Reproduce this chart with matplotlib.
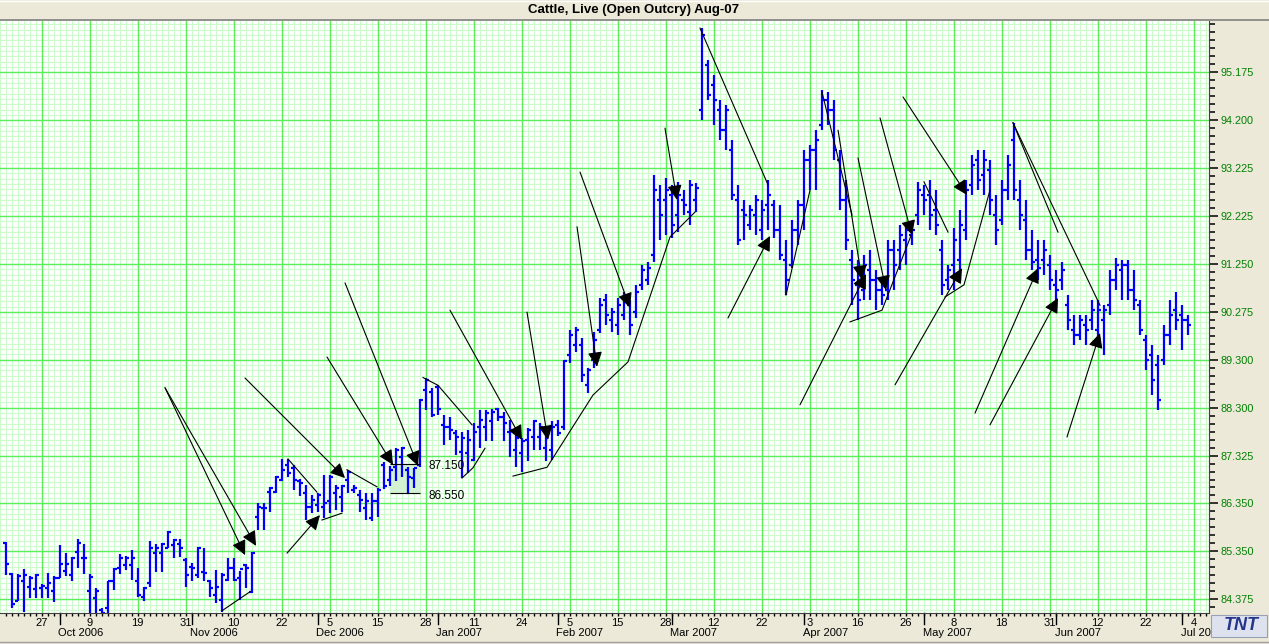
import numpy as np
import pandas as pd
import matplotlib
matplotlib.use('Agg')
import matplotlib.pyplot as plt
from matplotlib.lines import Line2D
from matplotlib.patches import Rectangle
from matplotlib.transforms import blended_transform_factory

plt.rcParams['font.family'] = ['Liberation Sans', 'DejaVu Sans']

title = 'Cattle, Live (Open Outcry) Aug-07'

# trading days (exchange closed on these)
holidays = ['2006-11-23', '2006-12-25', '2007-01-01', '2007-01-02',
            '2007-01-15', '2007-02-19', '2007-04-06', '2007-05-28']
days = pd.bdate_range('2006-09-19', '2007-07-04')
days = days[~days.isin(pd.to_datetime(holidays))]

opens = [85.52, 84.89, 84.34, 84.76, 84.63, 84.58, 84.60, 84.60, 84.55, 84.82,
         84.96, 84.87, 85.35, 85.22, 84.55, 84.40, 84.15, 84.19, 84.76, 85.01,
         85.08, 85.08, 84.74, 84.43, 84.70, 85.32, 85.32, 85.42, 85.49, 85.50,
         85.18, 85.04, 84.87, 84.93, 84.74, 84.46, 84.36, 84.77, 85.01, 84.81,
         85.08, 84.53, 86.07, 86.24, 86.58, 86.58, 86.82, 87.13, 87.06, 86.79,
         86.55, 86.27, 86.31, 86.27, 86.38, 86.55, 86.48, 86.82, 86.62, 86.51,
         86.24, 86.04, 86.38, 87.13, 86.82, 87.09, 87.30, 87.03, 86.86, 87.13,
         88.67, 88.63, 88.73, 87.95, 87.91, 87.78, 87.40, 87.37, 87.23, 87.91,
         87.91, 88.02, 88.27, 88.12, 87.81, 87.44, 87.37, 87.64, 87.71, 87.71,
         87.47, 87.44, 87.95, 87.91, 89.38, 89.59, 89.59, 88.77, 89.28, 89.89,
         90.51, 90.10, 90.00, 90.20, 90.41, 90.26, 90.82, 90.92, 91.43, 92.56,
         92.56, 92.66, 92.25, 92.56, 92.31, 92.56, 94.40, 95.32, 94.91, 94.40,
         93.99, 93.58, 92.56, 92.35, 92.05, 92.25, 91.94, 92.45, 92.45, 91.94,
         91.33, 91.23, 91.94, 92.45, 93.38, 93.58, 94.09, 94.61, 94.40, 93.38,
         92.56, 91.33, 90.82, 90.71, 91.12, 90.92, 90.71, 90.71, 91.53, 91.53,
         91.74, 91.84, 92.25, 92.66, 92.66, 92.35, 91.53, 90.92, 91.23, 91.33,
         91.94, 92.87, 93.38, 93.07, 93.17, 92.25, 92.15, 92.76, 93.79, 92.56,
         92.15, 91.53, 91.33, 91.33, 91.23, 90.82, 90.92, 90.41, 89.89, 89.79,
         90.00, 90.10, 89.89, 90.10, 90.41, 90.92, 91.12, 91.23, 90.71, 90.41,
         89.69, 89.38, 89.18, 89.28, 89.79, 90.30, 90.20, 90.10]

highs = [85.54, 84.91, 84.89, 85.00, 84.85, 84.89, 84.68, 84.91, 84.85, 85.49,
         85.33, 85.25, 85.61, 85.50, 84.89, 84.60, 84.19, 84.76, 85.01, 85.30,
         85.27, 85.39, 85.01, 84.63, 85.57, 85.50, 85.52, 85.78, 85.61, 85.61,
         85.22, 85.11, 85.45, 85.42, 84.77, 84.98, 84.91, 85.22, 85.22, 84.96,
         85.09, 85.35, 86.34, 86.34, 86.68, 86.90, 87.24, 87.24, 87.13, 86.84,
         86.72, 86.51, 86.56, 86.92, 86.92, 86.72, 86.72, 87.03, 86.72, 86.62,
         86.55, 86.55, 86.65, 87.18, 87.11, 87.47, 87.49, 87.09, 87.06, 88.47,
         88.90, 88.70, 88.77, 88.15, 88.12, 87.85, 87.81, 87.85, 87.98, 88.25,
         88.25, 88.27, 88.29, 88.22, 88.05, 87.85, 87.68, 87.88, 88.05, 87.98,
         87.85, 88.02, 88.05, 89.28, 89.89, 89.96, 89.73, 89.11, 89.85, 90.55,
         90.63, 90.35, 90.55, 90.67, 90.51, 90.82, 91.23, 91.29, 93.07, 92.87,
         93.01, 92.87, 92.93, 92.76, 92.97, 92.91, 96.08, 95.43, 95.12, 94.61,
         94.50, 93.79, 92.87, 92.56, 92.45, 92.66, 92.56, 92.97, 92.56, 92.45,
         91.74, 92.15, 92.56, 93.58, 93.68, 93.99, 94.81, 94.77, 94.61, 93.58,
         92.97, 91.53, 91.33, 91.43, 91.53, 91.12, 90.92, 91.74, 91.74, 92.05,
         92.05, 92.05, 92.93, 92.87, 92.97, 92.76, 91.74, 91.23, 91.98, 92.35,
         92.97, 93.48, 93.58, 93.58, 93.38, 92.66, 92.97, 93.48, 94.14, 92.97,
         92.56, 91.94, 91.74, 91.74, 91.43, 91.12, 91.29, 90.61, 90.20, 90.20,
         90.20, 90.51, 90.51, 90.41, 91.12, 91.37, 91.33, 91.33, 91.12, 90.51,
         89.79, 89.59, 89.38, 90.00, 90.51, 90.67, 90.41, 90.20]

lows = [84.87, 84.19, 84.34, 84.12, 84.40, 84.40, 84.40, 84.40, 84.31, 84.81,
        84.85, 84.74, 85.02, 84.89, 84.07, 84.05, 84.05, 84.07, 84.57, 84.89,
        84.98, 84.77, 84.43, 84.34, 84.63, 84.93, 84.94, 85.42, 85.22, 85.25,
        84.63, 84.74, 84.81, 84.74, 84.43, 84.29, 84.11, 84.74, 84.74, 84.36,
        84.60, 84.50, 85.80, 85.80, 86.17, 86.55, 86.79, 86.88, 86.62, 86.49,
        86.00, 86.14, 86.17, 86.04, 86.14, 86.21, 86.17, 86.55, 86.55, 86.17,
        86.00, 85.97, 86.07, 86.63, 86.70, 86.79, 86.89, 86.55, 86.65, 87.09,
        88.25, 88.12, 88.15, 87.54, 87.64, 87.33, 86.86, 86.96, 87.20, 87.47,
        87.61, 87.61, 88.02, 87.61, 87.30, 87.09, 86.99, 87.20, 87.44, 87.44,
        87.20, 87.23, 87.72, 87.85, 89.22, 89.44, 88.83, 88.60, 89.11, 89.83,
        90.00, 89.85, 89.79, 90.10, 89.79, 90.14, 90.71, 90.82, 91.29, 91.74,
        91.84, 91.78, 91.90, 92.25, 92.05, 92.31, 94.20, 94.61, 94.09, 93.79,
        93.58, 92.56, 91.64, 91.74, 91.94, 91.84, 91.74, 91.94, 91.78, 91.33,
        90.61, 91.16, 91.64, 91.94, 92.76, 92.76, 93.99, 94.09, 93.38, 92.35,
        91.53, 90.41, 90.10, 90.51, 90.51, 90.30, 90.41, 90.51, 90.71, 91.12,
        91.23, 91.64, 92.05, 92.25, 91.94, 91.84, 90.61, 90.71, 90.71, 90.92,
        91.74, 92.66, 92.76, 92.66, 92.25, 91.64, 92.05, 92.56, 92.56, 91.94,
        91.33, 91.12, 90.92, 91.02, 90.71, 90.51, 90.71, 89.89, 89.59, 89.69,
        89.59, 89.89, 89.59, 89.38, 90.20, 90.71, 90.51, 90.51, 90.30, 89.79,
        89.07, 88.56, 88.25, 89.18, 89.59, 89.89, 89.48, 89.79]

closes = [85.10, 84.27, 84.86, 84.87, 84.81, 84.87, 84.65, 84.70, 84.82, 85.10,
          85.10, 85.22, 85.52, 85.22, 84.84, 84.55, 84.10, 84.74, 85.00, 85.23,
          85.23, 85.22, 84.46, 84.61, 85.42, 85.42, 85.50, 85.75, 85.59, 85.42,
          84.87, 85.02, 85.42, 84.91, 84.60, 84.63, 84.87, 85.01, 84.77, 85.00,
          85.01, 85.32, 86.27, 86.24, 86.65, 86.89, 87.03, 86.96, 86.82, 86.75,
          86.27, 86.41, 86.51, 86.34, 86.89, 86.65, 86.69, 86.99, 86.65, 86.41,
          86.38, 86.38, 86.62, 86.70, 87.03, 87.44, 87.47, 86.89, 87.06, 88.46,
          88.87, 88.15, 88.27, 87.91, 87.85, 87.71, 87.68, 87.64, 87.81, 88.05,
          88.19, 88.22, 88.12, 87.98, 87.85, 87.68, 87.61, 87.85, 88.02, 87.91,
          87.81, 87.91, 87.78, 89.25, 89.79, 89.89, 88.97, 89.07, 89.69, 90.41,
          90.20, 90.26, 90.41, 90.51, 90.00, 90.67, 91.12, 91.16, 92.76, 92.25,
          92.76, 92.05, 92.66, 92.45, 92.87, 92.80, 95.94, 94.71, 94.61, 93.99,
          94.40, 92.66, 91.74, 92.25, 92.35, 92.56, 92.35, 92.66, 91.94, 91.43,
          90.92, 91.94, 92.45, 93.38, 93.58, 93.79, 94.61, 94.40, 93.58, 92.56,
          91.74, 90.92, 90.51, 91.23, 90.92, 90.71, 90.61, 91.53, 91.23, 91.84,
          91.94, 91.94, 92.76, 92.56, 92.25, 92.05, 90.82, 91.12, 91.74, 92.05,
          92.76, 93.27, 92.97, 93.38, 92.56, 91.94, 92.76, 93.27, 92.76, 92.25,
          91.53, 91.29, 91.16, 91.53, 90.92, 90.71, 91.12, 90.10, 89.79, 90.10,
          89.89, 90.30, 90.30, 90.30, 90.92, 91.23, 91.23, 90.71, 90.51, 89.89,
          89.28, 88.87, 88.46, 89.79, 90.20, 90.10, 90.10, 90.00]

# right axis labels as printed on the chart
ytick_labels = ['84.375', '85.350', '86.350', '87.325', '88.300', '89.300',
                '90.275', '91.250', '92.225', '93.225', '94.200', '95.175']

# hand drawn arrows (bar index, price): start -> tip
arrows = [((26.55, 88.71), (39.9, 85.28)), ((26.55, 88.71), (41.72, 85.47)),
          ((46.88, 85.32), (52.38, 86.10)), ((39.88, 88.91), (56.55, 86.86)),
          ((53.55, 89.34), (64.55, 87.13)), ((56.55, 90.86), (68.72, 87.11)),
          ((74.05, 90.30), (86.05, 87.64)), ((86.88, 90.26), (90.38, 87.64)),
          ((95.22, 92.01), (98.55, 89.14)), ((95.72, 93.13), (104.05, 90.35)),
          ((109.88, 94.03), (111.88, 92.56)), ((120.38, 90.14), (127.38, 91.82)),
          ((132.38, 88.36), (143.38, 91.04)), ((138.72, 93.99), (142.72, 90.92)),
          ((142.05, 93.42), (146.72, 90.71)), ((145.72, 94.24), (151.05, 91.84)),
          ((149.55, 94.67), (160.22, 92.66)), ((148.22, 88.77), (159.38, 91.16)),
          ((161.55, 88.19), (172.05, 91.16)), ((164.05, 87.95), (175.38, 90.55)),
          ((176.88, 87.70), (182.38, 89.83))]

# hand drawn trend lines
trend_lines = [[(36.05, 84.14), (40.72, 84.53)],
               [(47.05, 87.25), (51.88, 86.57)],
               [(52.72, 86.00), (56.05, 86.14)],
               [(56.88, 87.03), (61.88, 86.68)],
               [(69.55, 88.92), (72.05, 88.76), (77.72, 87.95)],
               [(76.05, 86.86), (77.88, 87.07), (79.88, 87.47)],
               [(84.55, 86.90), (90.22, 87.08), (97.88, 88.56), (103.72, 89.24),
                (110.72, 91.80), (114.88, 92.31)],
               [(115.72, 96.08), (127.05, 92.87)],
               [(130.05, 90.61), (134.05, 92.76)],
               [(136.05, 94.77), (141.05, 92.25)],
               [(140.72, 90.06), (146.05, 90.30), (151.05, 91.88)],
               [(153.05, 92.93), (157.05, 91.90)],
               [(156.55, 90.57), (159.72, 90.82), (164.05, 92.76)],
               [(167.88, 94.14), (175.38, 91.90)],
               [(167.88, 94.14), (182.38, 90.40)]]

# price box
box_x = (64.05, 69.05)
box_hi, box_lo = 87.15, 86.55

bg = '#ECE9D8'
W, H = 1269, 644
fig = plt.figure(figsize=(W / 100, H / 100), dpi=100, facecolor=bg)
ax = fig.add_axes([0, 1 - 613 / H, 1209 / W, (613 - 21) / H])
ax.set_facecolor('white')

n = len(opens)
x = np.arange(n)

# grid
ymaj = np.linspace(84.375, 95.175, 12)
step = ymaj[1] - ymaj[0]
ymin_grid = np.arange(ymaj[0] - step, 96.3, step / 9)
xmaj = np.arange(6, 201, 8)
ax.vlines(np.arange(-1, 201), 84.0, 96.3, color='#CCFCCC', lw=0.8, zorder=0)
ax.hlines(ymin_grid, -2, 202, color='#CCFCCC', lw=0.8, zorder=0)
ax.vlines(xmaj, 84.0, 96.3, color='#5CEC5C', lw=1.0, zorder=0.5)
ax.hlines(ymaj, -2, 202, color='#5CEC5C', lw=1.0, zorder=0.5)

# box with price labels
ax.fill_between(box_x, box_lo, box_hi, color='#D2F2D2', zorder=0.8)
ax.hlines([box_hi, box_lo], box_x[0], box_x[1], color='black', lw=0.8, zorder=3)
ax.text(70.4, box_hi - 0.05, '87.150', fontsize=8.5, va='center', ha='left')
ax.text(70.4, box_lo - 0.05, '86.550', fontsize=8.5, va='center', ha='left')

# OHLC bars
blue = '#0000FF'
ax.vlines(x, lows, highs, color=blue, lw=1.6, zorder=2)
ax.hlines(opens, x - 0.5, x, color=blue, lw=1.6, zorder=2)
ax.hlines(closes, x, x + 0.5, color=blue, lw=1.6, zorder=2)

for pts in trend_lines:
    xs, ys = zip(*pts)
    ax.plot(xs, ys, color='black', lw=0.8, zorder=3)

for start, tip in arrows:
    ax.annotate('', xy=tip, xytext=start,
                arrowprops=dict(arrowstyle='-|>,head_length=0.45,head_width=0.22',
                                mutation_scale=20, color='black', lw=0.8,
                                shrinkA=0, shrinkB=0), zorder=4)

# right price axis
ax.yaxis.tick_right()
ax.set_yticks(ymaj)
ax.set_yticklabels(ytick_labels)
ax.set_yticks(np.arange(ymaj[0] - step, 96.3, step / 6), minor=True)
ax.tick_params(axis='y', which='major', length=6.5, width=1.1, color='black',
               labelcolor='#008000', labelsize=7.8, pad=2)
ax.tick_params(axis='y', which='minor', length=4.3, width=1.1, color='black')

# bottom date axis
ax.set_xticks(xmaj)
ax.set_xticklabels([])
ax.set_xticks(np.arange(0, 201), minor=True)
ax.tick_params(axis='x', which='both', length=2.2, width=1.0, color='black')

# limits last, so the tick lists above cannot widen them
ax.set_xlim(-0.95, 200.55)
ax.set_ylim(84.094, 96.226)

for s in ['left', 'top']:
    ax.spines[s].set_visible(False)
ax.spines['bottom'].set_color('#404040')
ax.spines['right'].set_color('#404040')

tr = blended_transform_factory(ax.transData, ax.transAxes)
for i in xmaj:
    if i < len(days):
        ax.text(i, -0.0169, str(days[i].day), transform=tr, ha='center',
                va='center', fontsize=8)
month_start = [i for i in range(1, n) if days[i].month != days[i - 1].month]
for i in month_start:
    ax.add_line(Line2D([i, i], [0, -0.019], transform=tr, color='black',
                       lw=1.0, clip_on=False))
    ax.text(i - 0.2, -0.034, days[i].strftime('%b %Y'), transform=tr,
            ha='left', va='center', fontsize=8)

# title bar
fig.add_artist(Line2D([0, 1], [1 - 19.5 / H] * 2, color='#808080', lw=1.2))
fig.add_artist(Line2D([0, 1], [1 - 1 / H] * 2, color='white', lw=1.0))
fig.text(634 / W, 1 - 10 / H, title, ha='center', va='center',
         fontsize=9.5, weight='bold')

# logo corner
fig.add_artist(Rectangle((1211 / W, 1 - 637 / H), 56 / W, 22 / H,
                         transform=fig.transFigure, facecolor='#DDE2EE',
                         edgecolor='#9AA0B8', lw=0.8, zorder=10))
fig.text(1241 / W, 1 - 626 / H, 'TNT', ha='center', va='center', fontsize=13,
         weight='bold', style='italic', color='#24358C', zorder=11)
fig.add_artist(Line2D([0, 1], [1 - 641.5 / H] * 2, color='#A0A0A0', lw=1.0))

fig.savefig('out.png', dpi=100, facecolor=bg)
